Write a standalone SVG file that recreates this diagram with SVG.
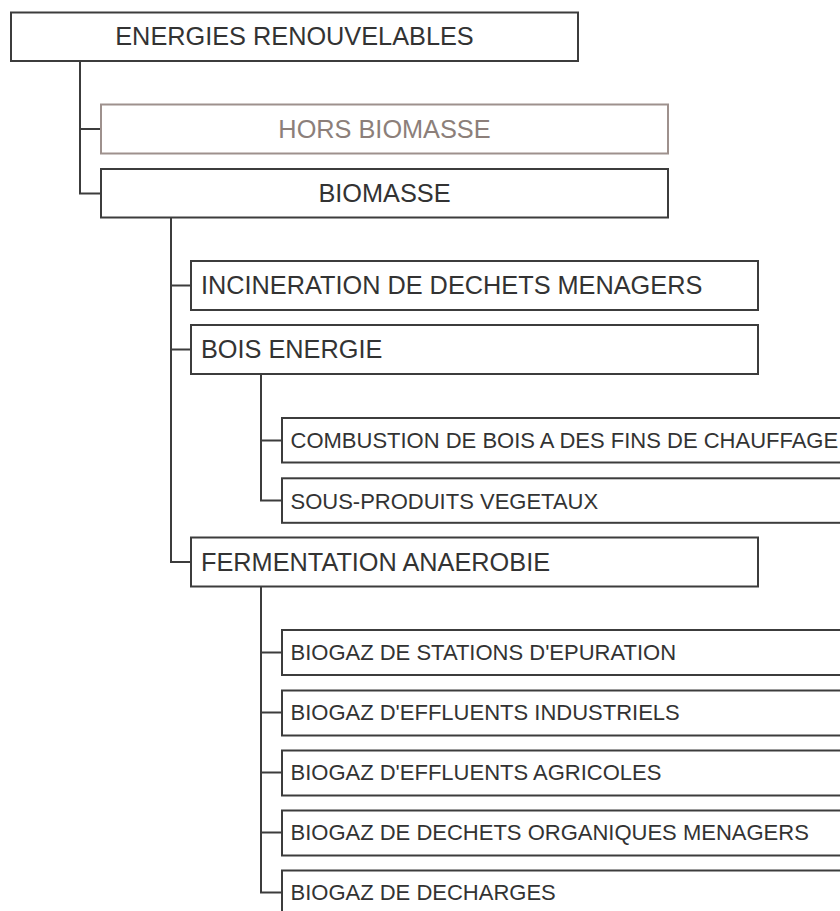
<svg xmlns="http://www.w3.org/2000/svg" width="840" height="911" viewBox="0 0 840 911">
<style>
  .box { fill: #ffffff; stroke: #3c3c3c; stroke-width: 2; }
  .box.muted { stroke: #9e918d; }
  .t { font-family: "Liberation Sans", Arial, sans-serif; fill: #333333; }
  .lg { font-size: 25.3px; }
  .sm { font-size: 22px; }
  .muted-t { fill: #8c7f7a; }
  .mid { text-anchor: middle; }
  .conn { fill: none; stroke: #3c3c3c; stroke-width: 2; }
</style>
<rect x="0" y="0" width="840" height="911" fill="#ffffff"/>
<g id="connectors">
  <path class="conn" d="M80,61 V193.5 H101 M80,129 H101"/>
  <path class="conn" d="M171,217.5 V562 H191 M171,285.5 H191 M171,349.5 H191"/>
  <path class="conn" d="M261,374 V500.5 H282 M261,440.5 H282"/>
  <path class="conn" d="M261,586.5 V892.5 H282 M261,652.5 H282 M261,712.5 H282 M261,772.5 H282 M261,832.5 H282"/>
</g>
<g id="n-root">
  <rect class="box" x="11" y="12.5" width="567" height="48.5"/>
  <text class="t lg mid" x="294.5" y="45">ENERGIES RENOUVELABLES</text>
</g>
<g id="n-hors-biomasse">
  <rect class="box muted" x="101" y="104.5" width="567" height="49"/>
  <text class="t lg mid muted-t" x="384.5" y="138">HORS BIOMASSE</text>
</g>
<g id="n-biomasse">
  <rect class="box" x="101" y="169" width="567" height="48.5"/>
  <text class="t lg mid" x="384.5" y="201.5">BIOMASSE</text>
</g>
<g id="n-incineration">
  <rect class="box" x="191" y="261" width="567" height="49"/>
  <text class="t lg" x="201" y="294">INCINERATION DE DECHETS MENAGERS</text>
</g>
<g id="n-bois-energie">
  <rect class="box" x="191" y="325" width="567" height="49"/>
  <text class="t lg" x="201" y="358">BOIS ENERGIE</text>
</g>
<g id="n-combustion">
  <rect class="box" x="282" y="418" width="567" height="44.5"/>
  <text class="t sm" x="290.5" y="448.3">COMBUSTION DE BOIS A DES FINS DE CHAUFFAGE</text>
</g>
<g id="n-sous-produits">
  <rect class="box" x="282" y="478.3" width="567" height="44.5"/>
  <text class="t sm" x="290.5" y="508.5">SOUS-PRODUITS VEGETAUX</text>
</g>
<g id="n-fermentation">
  <rect class="box" x="191" y="537.5" width="567" height="49"/>
  <text class="t lg" x="201" y="571">FERMENTATION ANAEROBIE</text>
</g>
<g id="n-stations">
  <rect class="box" x="282" y="630" width="567" height="45"/>
  <text class="t sm" x="290.5" y="660.2">BIOGAZ DE STATIONS D'EPURATION</text>
</g>
<g id="n-industriels">
  <rect class="box" x="282" y="690.5" width="567" height="45"/>
  <text class="t sm" x="290.5" y="720.4">BIOGAZ D'EFFLUENTS INDUSTRIELS</text>
</g>
<g id="n-agricoles">
  <rect class="box" x="282" y="750.5" width="567" height="45"/>
  <text class="t sm" x="290.5" y="780.4">BIOGAZ D'EFFLUENTS AGRICOLES</text>
</g>
<g id="n-organiques">
  <rect class="box" x="282" y="810.5" width="567" height="45"/>
  <text class="t sm" x="290.5" y="840.4">BIOGAZ DE DECHETS ORGANIQUES MENAGERS</text>
</g>
<g id="n-decharges">
  <rect class="box" x="282" y="870.5" width="567" height="45"/>
  <text class="t sm" x="290.5" y="900.4">BIOGAZ DE DECHARGES</text>
</g>
</svg>
